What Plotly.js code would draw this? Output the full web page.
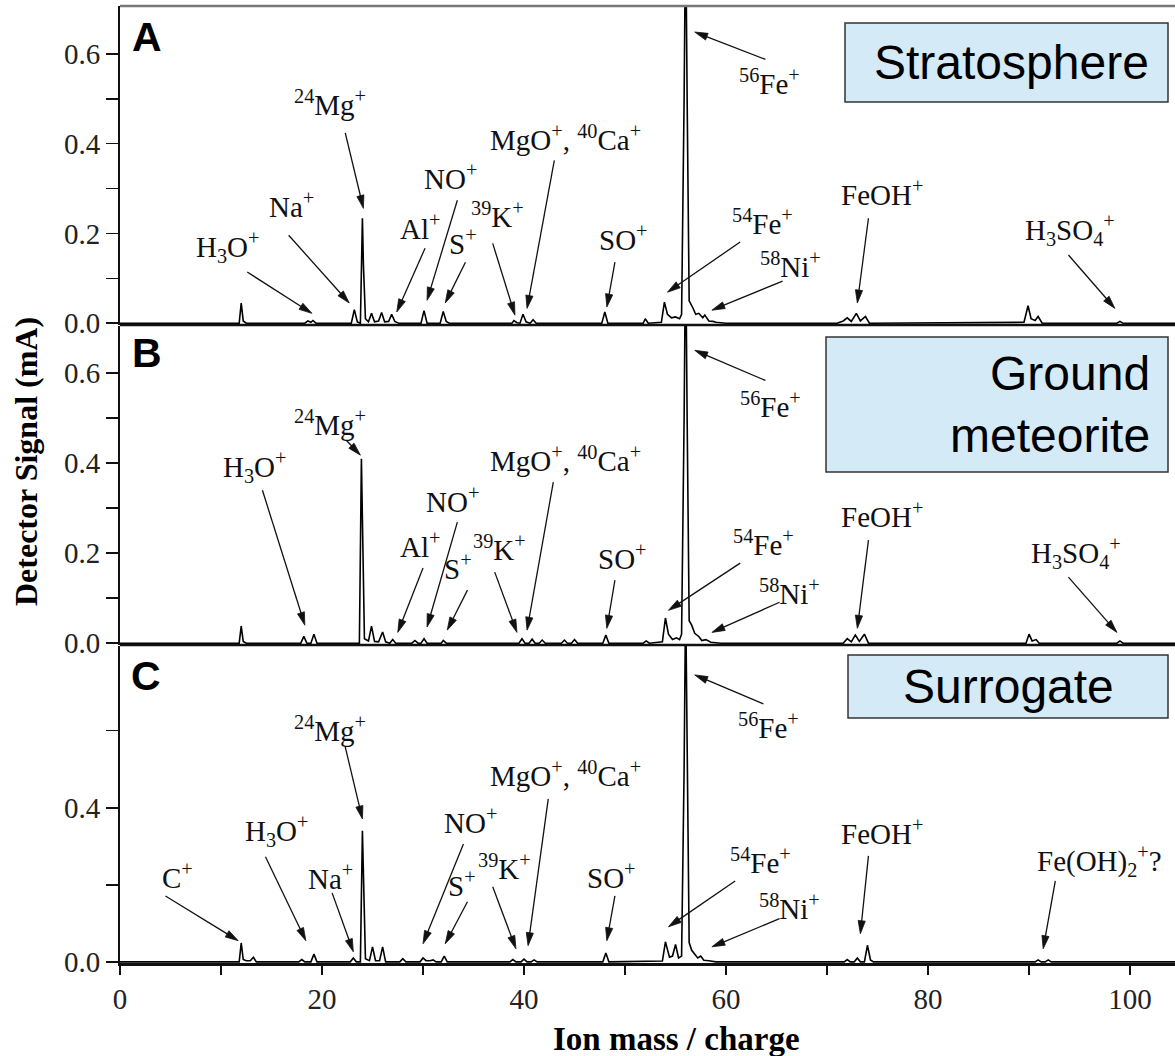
<!DOCTYPE html>
<html>
<head>
<meta charset="utf-8">
<script src="https://cdn.plot.ly/plotly-3.0.1.min.js"></script>
<style>
html,body{margin:0;padding:0;background:#fff;}
#chart{width:1175px;height:1056px;}
</style>
</head>
<body>
<div id="chart"></div>
<script>
// ---------------- DATA ----------------
// Panel A: Stratosphere spectrum (m/z, detector signal mA)
var massA = [0,11.8,12.0,12.2,12.5,18.3,18.6,18.9,19.1,19.4,22.9,23.2,23.5,23.8,24.0,24.1,24.3,24.6,24.9,25.2,25.6,25.9,26.2,26.6,26.9,27.2,27.6,29.8,30.1,30.4,31.7,32.0,32.3,32.6,38.8,39.0,39.3,39.6,39.9,40.2,40.6,40.9,41.2,47.7,48.0,48.3,51.8,52.0,52.3,53.6,53.9,54.2,54.6,55.0,55.4,55.6,55.85,56.0,56.15,56.35,56.7,57.0,57.3,57.7,57.9,58.3,58.7,59.0,60.0,71.0,71.6,72.0,72.4,72.9,73.3,73.8,74.2,89.5,89.9,90.2,90.6,90.9,91.3,98.7,99.0,99.3,105];
var signalA = [0,0,0.045,0.005,0,0,0.005,0.002,0.006,0,0,0.03,0.003,0,0.234,0.13,0.01,0.003,0.022,0.003,0.005,0.024,0.003,0.004,0.02,0.004,0,0,0.028,0,0,0.026,0.004,0,0,0.006,0.001,0,0.02,0.003,0,0.008,0,0,0.025,0,0,0.01,0,0.002,0.047,0.02,0.012,0.014,0.01,0.02,0.5,0.9,0.5,0.05,0.035,0.02,0.022,0.012,0.018,0.005,0.004,0.002,0,0,0.005,0.012,0.004,0.022,0.005,0.015,0,0.002,0.039,0.01,0.006,0.015,0,0,0.004,0,0];

// Panel B: Ground meteorite spectrum
var massB = [0,11.8,12.0,12.2,12.5,17.9,18.2,18.5,18.9,19.2,19.5,23.7,23.9,24.0,24.2,24.6,24.9,25.2,25.6,26.0,26.3,26.7,27.0,27.3,28.9,29.2,29.5,29.8,30.1,30.4,31.8,32.0,32.3,39.5,39.8,40.1,40.5,40.8,41.1,41.5,41.8,42.1,43.7,44.0,44.3,44.7,45.0,45.3,47.8,48.1,48.4,51.8,52.1,52.4,53.7,54.0,54.3,54.7,55.1,55.4,55.6,55.85,56.0,56.15,56.35,56.6,56.9,57.3,57.6,58.0,58.5,59.5,71.6,72.0,72.4,72.8,73.2,73.7,74.1,89.7,90.0,90.3,90.7,91.0,98.7,99.0,99.3,105];
var signalB = [0,0,0.038,0.004,0,0,0.015,0,0,0.02,0,0,0.41,0.25,0.01,0.005,0.038,0.004,0.003,0.025,0.003,0,0.008,0,0,0.006,0,0,0.01,0,0,0.006,0,0,0.01,0,0,0.009,0,0,0.007,0,0,0.007,0,0,0.008,0,0,0.018,0,0,0.005,0,0.003,0.056,0.02,0.008,0.012,0.008,0.02,0.5,0.9,0.5,0.05,0.04,0.022,0.015,0.006,0.008,0.002,0,0,0.01,0.003,0.018,0.004,0.02,0,0,0.02,0.005,0.008,0,0,0.005,0,0];

// Panel C: Surrogate spectrum
var massC = [0,11.8,12.0,12.2,12.5,12.9,13.2,13.5,17.7,18.0,18.3,18.9,19.2,19.5,22.8,23.1,23.4,23.8,24.0,24.1,24.3,24.7,25.0,25.3,25.7,26.0,26.3,27.7,28.0,28.3,29.7,30.0,30.3,30.7,31.0,31.3,31.8,32.1,32.4,38.6,38.9,39.2,39.7,40.0,40.3,40.7,41.0,41.3,47.8,48.1,48.4,53.7,54.0,54.4,54.7,55.0,55.3,55.6,55.85,56.0,56.15,56.35,56.6,56.9,57.2,57.5,57.8,58.3,59.0,71.7,72.0,72.3,72.7,73.0,73.3,73.7,74.0,74.3,74.6,90.6,90.9,91.2,91.6,91.9,92.2,105];
var signalC = [0,0,0.049,0.006,0.003,0.003,0.012,0,0,0.006,0,0,0.02,0,0,0.01,0,0,0.34,0.2,0.008,0.003,0.039,0.003,0.003,0.039,0,0,0.008,0,0,0.01,0.003,0.003,0.005,0,0,0.015,0,0,0.006,0,0,0.007,0,0,0.005,0,0,0.023,0,0.002,0.052,0.012,0.015,0.045,0.01,0.015,0.5,0.95,0.5,0.05,0.03,0.02,0.01,0.015,0.004,0.003,0,0,0.006,0,0,0.01,0,0,0.043,0.005,0,0,0.005,0,0,0.005,0,0];

// Ion labels per panel
var ionsA = ['H<sub>3</sub>O<sup>+</sup>','Na<sup>+</sup>','<sup>24</sup>Mg<sup>+</sup>','Al<sup>+</sup>','NO<sup>+</sup>','S<sup>+</sup>','<sup>39</sup>K<sup>+</sup>','MgO<sup>+</sup>, <sup>40</sup>Ca<sup>+</sup>','SO<sup>+</sup>','<sup>54</sup>Fe<sup>+</sup>','<sup>58</sup>Ni<sup>+</sup>','<sup>56</sup>Fe<sup>+</sup>','FeOH<sup>+</sup>','H<sub>3</sub>SO<sub>4</sub><sup>+</sup>'];
var ionsB = ['H<sub>3</sub>O<sup>+</sup>','<sup>24</sup>Mg<sup>+</sup>','Al<sup>+</sup>','NO<sup>+</sup>','S<sup>+</sup>','<sup>39</sup>K<sup>+</sup>','MgO<sup>+</sup>, <sup>40</sup>Ca<sup>+</sup>','SO<sup>+</sup>','<sup>54</sup>Fe<sup>+</sup>','<sup>58</sup>Ni<sup>+</sup>','<sup>56</sup>Fe<sup>+</sup>','FeOH<sup>+</sup>','H<sub>3</sub>SO<sub>4</sub><sup>+</sup>'];
var ionsC = ['C<sup>+</sup>','H<sub>3</sub>O<sup>+</sup>','Na<sup>+</sup>','<sup>24</sup>Mg<sup>+</sup>','NO<sup>+</sup>','S<sup>+</sup>','<sup>39</sup>K<sup>+</sup>','MgO<sup>+</sup>, <sup>40</sup>Ca<sup>+</sup>','SO<sup>+</sup>','<sup>54</sup>Fe<sup>+</sup>','<sup>58</sup>Ni<sup>+</sup>','<sup>56</sup>Fe<sup>+</sup>','FeOH<sup>+</sup>','Fe(OH)<sub>2</sub><sup>+</sup>?'];

var panelLetters = ['A','B','C'];
var sampleNames = ['Stratosphere','Ground<br>meteorite','Surrogate'];
var xTickVals = [0,20,40,60,80,100];
var xMinorVals = [10,30,50,70,90];
var yTickValsAB = [0,0.2,0.4,0.6];
var yMinorValsAB = [0.1,0.3,0.5];
var yTickValsC = [0,0.4];
var yMinorValsC = [0.2,0.6];
var xTitle = 'Ion mass / charge';
var yTitle = 'Detector Signal (mA)';

// ---------------- LAYOUT (placements) ----------------
// [text x, text y, arrow tail x, tail y, arrow head x, head y]
var placeA = [
  [10.7,0.169, 12.6,0.114, 19.0,0.022],
  [17.0,0.263, 16.7,0.196, 22.7,0.045],
  [20.8,0.490, 22.3,0.424, 24.1,0.256],
  [29.7,0.214, 30.2,0.167, 27.4,0.025],
  [32.7,0.326, 33.4,0.274, 30.4,0.051],
  [34.0,0.181, 34.2,0.136, 32.2,0.045],
  [37.4,0.241, 36.9,0.178, 39.1,0.018],
  [44.1,0.412, 43.0,0.363, 40.3,0.033],
  [49.8,0.190, 49.0,0.136, 48.2,0.036],
  [63.6,0.225, 61.4,0.181, 54.2,0.069],
  [66.4,0.129, 65.6,0.094, 58.6,0.029],
  [64.3,0.537, 63.9,0.588, 56.9,0.649],
  [75.4,0.290, 74.1,0.234, 73.0,0.045],
  [94.1,0.207, 93.9,0.152, 98.5,0.033]
];
var placeB = [
  [13.4,0.391, 14.1,0.340, 18.3,0.040],
  [20.8,0.489, 22.4,0.451, 23.8,0.418],
  [29.7,0.218, 30.0,0.167, 27.5,0.024],
  [32.9,0.318, 33.4,0.269, 30.4,0.036],
  [33.5,0.169, 34.4,0.118, 32.4,0.029],
  [37.6,0.211, 37.1,0.158, 39.3,0.024],
  [44.1,0.409, 42.9,0.358, 40.3,0.029],
  [49.7,0.191, 49.0,0.140, 48.2,0.033],
  [63.7,0.222, 61.4,0.178, 54.3,0.073],
  [66.3,0.113, 65.3,0.091, 58.6,0.024],
  [64.4,0.529, 63.9,0.584, 56.9,0.651],
  [75.4,0.284, 74.1,0.229, 73.0,0.033],
  [94.6,0.200, 93.9,0.147, 98.7,0.024]
];
var placeC = [
  [5.7,0.223, 4.5,0.171, 11.7,0.055],
  [15.5,0.340, 14.4,0.273, 18.4,0.055],
  [20.8,0.221, 21.0,0.179, 23.1,0.026],
  [20.8,0.605, 22.3,0.558, 24.0,0.371],
  [34.7,0.366, 34.0,0.306, 30.0,0.047],
  [33.9,0.203, 34.4,0.156, 32.2,0.047],
  [38.1,0.247, 36.9,0.195, 39.2,0.034],
  [44.1,0.488, 42.4,0.423, 40.4,0.042],
  [48.7,0.223, 49.0,0.171, 48.2,0.055],
  [63.4,0.262, 60.9,0.210, 54.3,0.091],
  [66.3,0.143, 65.3,0.112, 58.6,0.039],
  [64.2,0.613, 63.7,0.670, 56.9,0.745],
  [75.4,0.338, 74.1,0.275, 73.3,0.073],
  [97.0,0.262, 92.6,0.210, 91.4,0.034]
];

var serif = 'Liberation Serif, Times New Roman, serif';
var sans = 'Liberation Sans, Arial, sans-serif';

// plot geometry (pixels): left 120, top 6, bottom 963, right 1175
var xRange = [0, 104.45];
var rangeA = [-0.004, 0.707], rangeB = [-0.004, 0.705], rangeC = [-0.003, 0.82];
var pxA = [6, 325], pxB = [326, 645], pxC = [646, 963];
function px2fx(px) { return (px - 120) / 1055; }
function py2fy(py) { return (963 - py) / 957; }
var xScale = 1055 / (xRange[1] - xRange[0]);
function yScaleOf(px, r) { return (px[1] - px[0]) / (r[1] - r[0]); }

function lineTrace(x, y, yax) {
  return {x: x, y: y, type: 'scatter', mode: 'lines', xaxis: 'x', yaxis: yax,
          line: {color: '#000', width: 1.6}, hoverinfo: 'skip', showlegend: false};
}
var data = [lineTrace(massA, signalA, 'y'), lineTrace(massB, signalB, 'y2'), lineTrace(massC, signalC, 'y3')];

var annotations = [];
var shapes = [];
function addLabels(texts, place, yref, yScale) {
  for (var i = 0; i < texts.length; i++) {
    var p = place[i];
    annotations.push({x: p[0], y: p[1], xref: 'x', yref: yref, text: texts[i], showarrow: false,
      font: {family: serif, size: 29, color: '#111'}, xanchor: 'center', yanchor: 'middle'});
    var tx = p[2], ty = p[3], hx = p[4], hy = p[5];
    var dxp = (hx - tx) * xScale, dyp = (hy - ty) * yScale;
    var len = Math.sqrt(dxp * dxp + dyp * dyp);
    var ux = dxp / len, uy = dyp / len;
    var L = 13, W = 3.6;
    var bx = -L * ux, by = -L * uy, nx = -uy, ny = ux;
    var path = 'M0,0 L' + (bx + W * nx).toFixed(2) + ',' + (by + W * ny).toFixed(2) +
               ' L' + (bx - W * nx).toFixed(2) + ',' + (by - W * ny).toFixed(2) + ' Z';
    shapes.push({type: 'line', xref: 'x', yref: yref, x0: tx, y0: ty,
      x1: hx + 0.7 * bx / xScale, y1: hy + 0.7 * by / yScale, line: {color: '#111', width: 1.3}});
    shapes.push({type: 'path', xref: 'x', yref: yref, xsizemode: 'pixel', ysizemode: 'pixel',
      xanchor: hx, yanchor: hy, path: path, fillcolor: '#111', line: {color: '#111', width: 0.8}});
  }
}
addLabels(ionsA, placeA, 'y', yScaleOf(pxA, rangeA));
addLabels(ionsB, placeB, 'y2', yScaleOf(pxB, rangeB));
addLabels(ionsC, placeC, 'y3', yScaleOf(pxC, rangeC));

// panel letters
var letterPos = [[147, 37], [147, 353], [146, 676]];
for (var k = 0; k < 3; k++) {
  annotations.push({x: px2fx(letterPos[k][0]), y: py2fy(letterPos[k][1]), xref: 'paper', yref: 'paper',
    text: '<b>' + panelLetters[k] + '</b>', showarrow: false, xanchor: 'center', yanchor: 'middle',
    font: {family: sans, size: 41, color: '#000'}});
}

// sample boxes
var boxes = [[845, 23, 1168, 102], [826, 337, 1168, 472], [848, 655, 1168, 718]];
for (var b = 0; b < 3; b++) {
  var bx0 = boxes[b];
  shapes.push({type: 'rect', xref: 'paper', yref: 'paper', x0: px2fx(bx0[0]), x1: px2fx(bx0[2]),
    y0: py2fy(bx0[3]), y1: py2fy(bx0[1]), fillcolor: '#d5eaf7', line: {color: '#333', width: 1.5}, layer: 'above'});
}
annotations.push({x: px2fx(1011), y: py2fy(62), xref: 'paper', yref: 'paper', text: sampleNames[0],
  showarrow: false, xanchor: 'center', yanchor: 'middle', font: {family: sans, size: 48, color: '#000'}});
annotations.push({x: px2fx(1152), y: py2fy(405), xref: 'paper', yref: 'paper', text: sampleNames[1],
  showarrow: false, xanchor: 'right', yanchor: 'middle', align: 'right', font: {family: sans, size: 48, color: '#000'}});
annotations.push({x: px2fx(1008), y: py2fy(686), xref: 'paper', yref: 'paper', text: sampleNames[2],
  showarrow: false, xanchor: 'center', yanchor: 'middle', font: {family: sans, size: 48, color: '#000'}});

// axis titles
annotations.push({x: px2fx(676), y: py2fy(1039), xref: 'paper', yref: 'paper', text: '<b>' + xTitle + '</b>',
  showarrow: false, xanchor: 'center', yanchor: 'middle', font: {family: serif, size: 33, color: '#000'}});
annotations.push({x: px2fx(26), y: py2fy(462), xref: 'paper', yref: 'paper', text: '<b>' + yTitle + '</b>',
  showarrow: false, xanchor: 'center', yanchor: 'middle', textangle: -90, font: {family: serif, size: 32, color: '#000'}});

// panel frame lines
shapes.push({type: 'line', xref: 'paper', yref: 'paper', x0: 0, x1: 1, y0: 1, y1: 1, line: {color: '#777', width: 2.5}});
shapes.push({type: 'line', xref: 'paper', yref: 'paper', x0: 0, x1: 1, y0: py2fy(325), y1: py2fy(325), line: {color: '#111', width: 2.5}});
shapes.push({type: 'line', xref: 'paper', yref: 'paper', x0: 0, x1: 1, y0: py2fy(645), y1: py2fy(645), line: {color: '#111', width: 2.5}});

function yAxis(px, range, tv, mv) {
  return {domain: [py2fy(px[1]), py2fy(px[0])], range: range, anchor: 'x', showgrid: false, zeroline: false,
    showline: true, linecolor: '#111', linewidth: 2, ticks: 'outside', ticklen: 12, tickwidth: 1.5,
    tickcolor: '#111', tickmode: 'array', tickvals: tv, tickformat: '.1f',
    minor: {tickmode: 'array', tickvals: mv, ticks: 'outside', ticklen: 12, tickwidth: 1.5, tickcolor: '#111', showgrid: false},
    tickfont: {family: serif, size: 29, color: '#222'}, fixedrange: true};
}

var layout = {
  width: 1175, height: 1056,
  margin: {l: 120, r: 0, t: 6, b: 93, pad: 0},
  paper_bgcolor: '#fff', plot_bgcolor: 'rgba(0,0,0,0)',
  showlegend: false,
  xaxis: {domain: [0, 1], range: xRange, anchor: 'y3', showgrid: false, zeroline: false,
    showline: true, linecolor: '#111', linewidth: 2.5, ticks: 'outside', ticklen: 9, tickwidth: 1.5,
    tickcolor: '#111', tickmode: 'array', tickvals: xTickVals,
    minor: {tickmode: 'array', tickvals: xMinorVals, ticks: 'outside', ticklen: 9, tickwidth: 1.5, tickcolor: '#111', showgrid: false},
    tickfont: {family: serif, size: 29, color: '#222'}, fixedrange: true},
  yaxis: yAxis(pxA, rangeA, yTickValsAB, yMinorValsAB),
  yaxis2: yAxis(pxB, rangeB, yTickValsAB, yMinorValsAB),
  yaxis3: yAxis(pxC, rangeC, yTickValsC, yMinorValsC),
  annotations: annotations,
  shapes: shapes
};

Plotly.newPlot('chart', data, layout, {displayModeBar: false, staticPlot: true});
</script>
</body>
</html>
